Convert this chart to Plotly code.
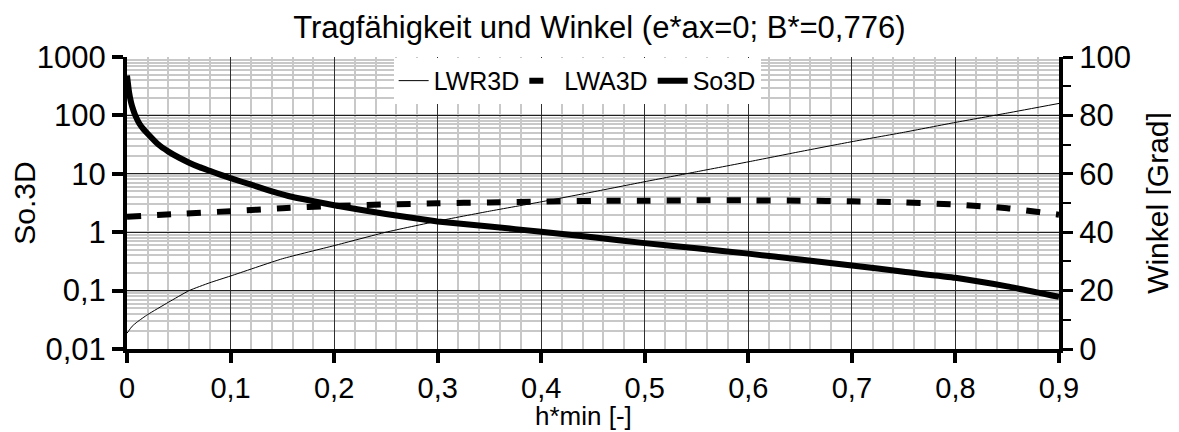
import plotly.graph_objects as go

# ---- data ----
title_text = "Tragfähigkeit und Winkel (e*ax=0; B*=0,776)"
x_title = "h*min [-]"

so3d_x = [0, 0.002, 0.004, 0.006, 0.008, 0.012, 0.016, 0.02, 0.03, 0.04, 0.05, 0.06, 0.07, 0.08,
          0.09, 0.1, 0.12, 0.14, 0.16, 0.18, 0.2, 0.25, 0.3, 0.35, 0.4, 0.45, 0.5, 0.55, 0.6,
          0.65, 0.7, 0.75, 0.8, 0.85, 0.9]
so3d_y = [480, 250, 165, 125, 100, 72, 58, 48.5, 32, 24, 19, 15.5, 13, 11.2,
          9.7, 8.4, 6.5, 5.0, 4.0, 3.4, 2.9, 2.05, 1.53, 1.25, 1.02, 0.82, 0.65, 0.53, 0.43,
          0.34, 0.27, 0.21, 0.166, 0.118, 0.078]

lwa_x = [0, 0.05, 0.1, 0.15, 0.2, 0.25, 0.3, 0.35, 0.4, 0.45, 0.5, 0.55, 0.6, 0.65, 0.7, 0.75,
         0.8, 0.85, 0.9]
lwa_y = [45.3, 46.3, 47.2, 48.2, 49.0, 49.5, 49.9, 50.2, 50.5, 50.7, 50.8, 50.9, 50.9, 50.8, 50.6, 50.2,
         49.5, 48.2, 46.0]

lwr_x = [0, 0.005, 0.01, 0.02, 0.04, 0.06, 0.08, 0.1, 0.15, 0.2, 0.25, 0.3, 0.35, 0.4, 0.45, 0.5,
         0.55, 0.6, 0.65, 0.7, 0.75, 0.8, 0.85, 0.9]
lwr_y = [5.4, 7.8, 9.3, 11.8, 16.0, 20.0, 22.7, 25.0, 30.9, 35.4, 40.0, 43.8, 47.2, 50.4, 53.8, 57.3,
         60.7, 64.1, 67.6, 71.0, 74.2, 77.6, 80.8, 84.1]

y_tickvals = [0.01, 0.1, 1, 10, 100, 1000]
y_ticktext = ["0,01", "0,1", "1", "10", "100", "1000"]

FONT = "Liberation Sans, Arial, sans-serif"
TICK_SIZE = 31

fig = go.Figure()
fig.add_trace(go.Scatter(x=lwr_x, y=lwr_y, name="LWR3D", yaxis="y2", mode="lines",
                         line=dict(color="black", width=1, shape="spline", smoothing=0.5)))
fig.add_trace(go.Scatter(x=lwa_x, y=lwa_y, name="LWA3D", yaxis="y2", mode="lines",
                         line=dict(color="black", width=6, dash="14px,16px", shape="spline", smoothing=0.5)))
fig.add_trace(go.Scatter(x=so3d_x, y=so3d_y, name="So3D", yaxis="y", mode="lines",
                         line=dict(color="black", width=6, shape="spline", smoothing=0.4)))

# the page body adds an 8px offset, so the figure is 8px smaller than the window
fig.update_layout(
    width=1171, height=424,
    margin=dict(l=119, r=120, t=49, b=83),
    paper_bgcolor="white", plot_bgcolor="white",
    separators=",.",
    font=dict(family=FONT, size=30, color="black"),
    title=dict(text=title_text, x=0.505, xanchor="center", y=0.981, yanchor="top",
               font=dict(family=FONT, size=31, color="black")),
    showlegend=True,
    legend=dict(orientation="h", x=0.483, xanchor="center", y=0.997, yanchor="top",
                bgcolor="white", font=dict(family=FONT, size=25), itemwidth=30,
                traceorder="normal"),
    xaxis=dict(range=[0, 0.9], tick0=0, dtick=0.1, ticks="outside", ticklen=10, tickwidth=4,
               tickcolor="black", showline=True, linecolor="black", linewidth=4,
               showgrid=True, gridcolor="#303030", gridwidth=1, zeroline=False,
               tickfont=dict(size=29), automargin=False,
               minor=dict(dtick=0.02, showgrid=True, gridcolor="#c8c8c8", gridwidth=1.5, ticks="")),
    yaxis=dict(type="log", range=[-2, 3], tickvals=y_tickvals, ticktext=y_ticktext,
               ticks="outside", ticklen=11, tickwidth=4, tickcolor="black",
               showline=True, linecolor="black", linewidth=4, automargin=False,
               showgrid=True, gridcolor="#202020", gridwidth=1, zeroline=False,
               tickfont=dict(size=TICK_SIZE),
               minor=dict(dtick="D1", showgrid=True, gridcolor="#c8c8c8", gridwidth=1.5, ticks=""),
               title=dict(text="So.3D", font=dict(size=30), standoff=2)),
    yaxis2=dict(range=[0, 100], dtick=20, tick0=0, overlaying="y", side="right",
                ticks="outside", ticklen=10, tickwidth=3, tickcolor="black", automargin=False,
                showline=True, linecolor="black", linewidth=4, showgrid=False, zeroline=False,
                tickfont=dict(size=TICK_SIZE),
                minor=dict(dtick=10, ticks="outside", ticklen=8, tickwidth=2, tickcolor="black"),
                title=dict(text="Winkel [Grad]", font=dict(size=30), standoff=18)),
    yaxis3=dict(range=[0, 100], overlaying="y", side="right", showticklabels=False,
                showgrid=False, zeroline=False, showline=False, ticks="",
                minor=dict(dtick=20, tick0=10, ticks="inside", ticklen=9, tickwidth=2, tickcolor="black")),
    annotations=[dict(text=x_title, xref="paper", yref="paper", x=0.49, y=-0.2842,
                      xanchor="center", yanchor="bottom", showarrow=False, borderpad=0,
                      font=dict(family=FONT, size=26, color="black"))],
)

fig.write_html("out.html")
